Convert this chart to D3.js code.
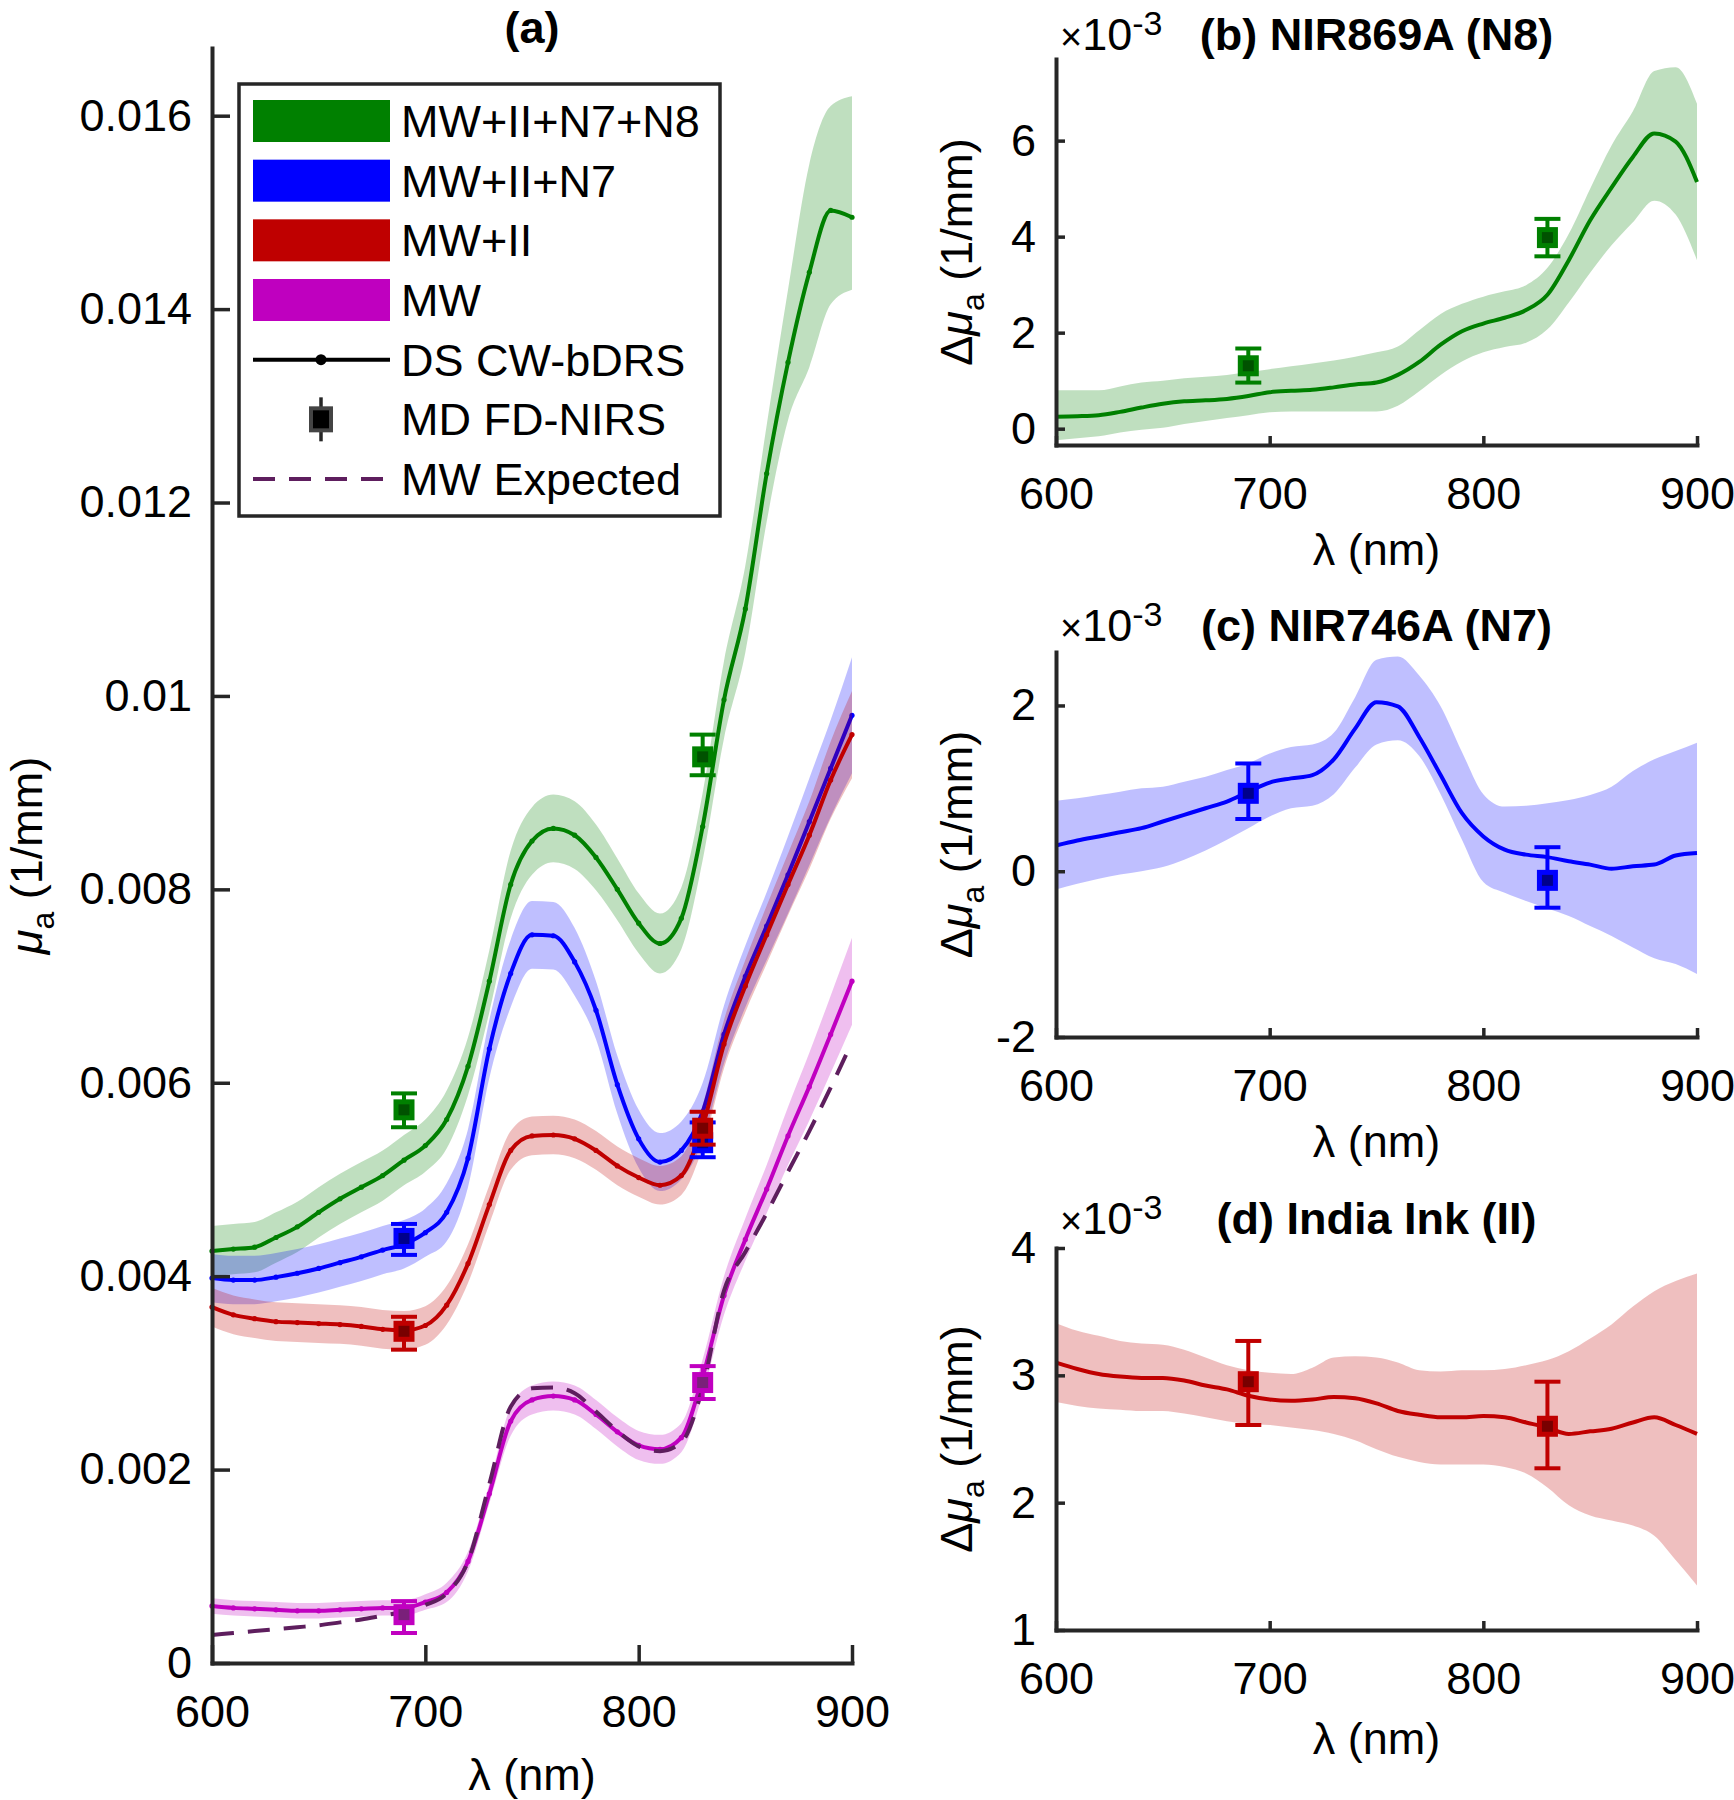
<!DOCTYPE html>
<html><head><meta charset="utf-8">
<script src="https://cdn.jsdelivr.net/npm/d3@7"></script>
<style>
body{margin:0;background:#fff}
text{font-family:"Liberation Sans",Arial,Helvetica,sans-serif;fill:#000}
</style>
</head><body>
<svg id="chart" width="1734" height="1800" xmlns="http://www.w3.org/2000/svg"></svg>
<script>
// ---------------- DATA ----------------
const wavelengths = [600,610,620,630,640,650,660,670,680,690,700,710,720,730,740,750,760,770,780,790,800,810,820,830,840,850,860,870,880,890,900];
const fdWavelengths = [690, 830];
const xTicks = [600, 700, 800, 900];

// Panel (a): mu_a in units of 1e-3 1/mm
const mwMean  = [0.59,0.57,0.56,0.55,0.54,0.54,0.55,0.56,0.57,0.57,0.63,0.73,1.05,1.75,2.50,2.72,2.76,2.72,2.57,2.39,2.25,2.21,2.33,2.96,3.80,4.38,4.90,5.45,5.96,6.50,7.05];
const mwUpper = [0.67,0.65,0.64,0.63,0.62,0.62,0.63,0.64,0.65,0.65,0.71,0.83,1.15,1.85,2.65,2.87,2.91,2.87,2.72,2.54,2.40,2.36,2.48,3.14,4.00,4.60,5.15,5.75,6.31,6.90,7.50];
const mwLower = [0.51,0.49,0.48,0.47,0.46,0.46,0.47,0.48,0.49,0.49,0.55,0.63,0.95,1.65,2.35,2.57,2.61,2.57,2.42,2.24,2.10,2.06,2.18,2.78,3.60,4.16,4.65,5.15,5.61,6.10,6.60];
const mwExpected = [0.29,0.31,0.33,0.35,0.37,0.39,0.42,0.45,0.49,0.53,0.60,0.72,1.05,1.85,2.65,2.84,2.85,2.79,2.60,2.40,2.24,2.19,2.28,2.85,3.85,4.25,4.65,5.08,5.50,5.95,6.42];

const mwIIMean  = [3.68,3.60,3.56,3.53,3.52,3.51,3.50,3.48,3.45,3.44,3.49,3.70,4.13,4.74,5.30,5.45,5.46,5.42,5.30,5.14,5.02,4.94,5.04,5.55,6.40,7.00,7.53,8.05,8.56,9.13,9.60];
const mwIIUpper = [3.88,3.80,3.76,3.73,3.72,3.71,3.70,3.68,3.65,3.64,3.69,3.90,4.33,4.94,5.50,5.65,5.66,5.62,5.50,5.34,5.22,5.14,5.24,5.77,6.65,7.27,7.83,8.37,8.91,9.53,10.05];
const mwIILower = [3.48,3.40,3.36,3.33,3.32,3.31,3.30,3.28,3.25,3.24,3.29,3.50,3.93,4.54,5.10,5.25,5.26,5.22,5.10,4.94,4.82,4.74,4.84,5.33,6.15,6.73,7.23,7.73,8.21,8.73,9.15];

const mwIIN7Mean  = [3.98,3.96,3.96,3.99,4.03,4.08,4.14,4.20,4.27,4.33,4.45,4.66,5.22,6.35,7.13,7.53,7.52,7.25,6.75,5.98,5.42,5.18,5.30,5.70,6.50,7.10,7.62,8.15,8.70,9.25,9.80];
const mwIIN7Upper = [4.23,4.21,4.21,4.24,4.28,4.33,4.39,4.45,4.52,4.58,4.70,4.96,5.52,6.65,7.48,7.88,7.87,7.60,7.05,6.28,5.72,5.48,5.60,6.00,6.80,7.42,7.97,8.55,9.15,9.75,10.40];
const mwIIN7Lower = [3.73,3.71,3.71,3.74,3.78,3.83,3.89,3.95,4.02,4.08,4.20,4.36,4.92,6.05,6.78,7.18,7.17,6.90,6.45,5.68,5.12,4.88,5.00,5.40,6.20,6.78,7.27,7.75,8.25,8.75,9.20];

const mwIIN7N8Mean  = [4.26,4.28,4.30,4.40,4.51,4.66,4.80,4.92,5.04,5.20,5.35,5.62,6.17,7.05,8.05,8.50,8.63,8.56,8.33,8.00,7.65,7.44,7.70,8.65,9.96,10.90,12.30,13.45,14.38,15.02,14.95];
const mwIIN7N8Upper = [4.52,4.54,4.56,4.66,4.77,4.92,5.06,5.18,5.30,5.46,5.62,5.92,6.47,7.37,8.40,8.85,8.98,8.91,8.67,8.32,7.96,7.75,8.02,9.00,10.36,11.35,12.80,14.20,15.50,16.10,16.20];
const mwIIN7N8Lower = [4.00,4.02,4.04,4.14,4.25,4.40,4.54,4.66,4.78,4.94,5.08,5.32,5.87,6.73,7.70,8.15,8.28,8.21,7.99,7.68,7.34,7.13,7.38,8.30,9.56,10.45,11.80,12.85,13.40,14.05,14.20];

// MD FD-NIRS points (at 690 and 830 nm), 1e-3 1/mm
const fdMW = [0.50, 2.90],          fdMWLo = [0.31, 2.73],          fdMWHi = [0.64, 3.07];
const fdMWII = [3.43, 5.53],        fdMWIILo = [3.24, 5.36],        fdMWIIHi = [3.58, 5.70];
const fdMWIIN7 = [4.39, 5.38],      fdMWIIN7Lo = [4.22, 5.23],      fdMWIIN7Hi = [4.54, 5.59];
const fdMWIIN7N8 = [5.72, 9.37],    fdMWIIN7N8Lo = [5.54, 9.18],    fdMWIIN7N8Hi = [5.89, 9.60];

const aYTicks = [0,2,4,6,8,10,12,14,16];
const aYTickLabels = ["0","0.002","0.004","0.006","0.008","0.01","0.012","0.014","0.016"];

// Panel (b): NIR869A (N8), delta mu_a x1e-3
const n8Mean  = [0.25,0.26,0.28,0.35,0.44,0.52,0.57,0.59,0.62,0.68,0.76,0.79,0.81,0.86,0.92,0.96,1.12,1.39,1.75,2.03,2.19,2.31,2.47,2.79,3.51,4.34,5.02,5.66,6.15,5.98,5.14];
const n8Upper = [0.80,0.80,0.80,0.88,0.96,1.00,1.05,1.08,1.12,1.18,1.24,1.30,1.36,1.42,1.50,1.59,1.71,2.05,2.39,2.60,2.75,2.86,2.99,3.35,4.06,5.00,5.90,6.61,7.45,7.53,6.77];
const n8Lower = [-0.24,-0.20,-0.16,-0.08,-0.02,0.02,0.10,0.16,0.22,0.28,0.34,0.36,0.36,0.36,0.36,0.36,0.48,0.78,1.12,1.40,1.59,1.70,1.79,2.07,2.63,3.25,3.82,4.30,4.75,4.46,3.51];
const fdN8 = [1.31, 3.98], fdN8Lo = [0.96, 3.59], fdN8Hi = [1.67, 4.37];
const bYTicks = [0,2,4,6];

// Panel (c): NIR746A (N7)
const n7Mean  = [0.31,0.37,0.42,0.47,0.52,0.60,0.68,0.76,0.84,0.96,1.07,1.12,1.16,1.35,1.72,2.04,1.99,1.62,1.16,0.70,0.42,0.26,0.20,0.17,0.12,0.08,0.03,0.06,0.08,0.19,0.22];
const n7Upper = [0.85,0.88,0.92,0.96,1.00,1.02,1.08,1.14,1.22,1.30,1.42,1.50,1.53,1.67,2.10,2.55,2.59,2.36,1.99,1.44,0.93,0.78,0.79,0.82,0.86,0.92,1.02,1.21,1.35,1.45,1.55];
const n7Lower = [-0.22,-0.15,-0.09,-0.04,0.00,0.05,0.14,0.25,0.38,0.52,0.66,0.76,0.79,0.93,1.25,1.53,1.58,1.39,0.93,0.38,-0.13,-0.26,-0.36,-0.45,-0.54,-0.66,-0.78,-0.92,-1.05,-1.12,-1.24];
const fdN7 = [0.94, -0.11], fdN7Lo = [0.63, -0.44], fdN7Hi = [1.30, 0.29];
const cYTicks = [-2,0,2];

// Panel (d): India Ink (II)
const iiMean  = [3.10,3.05,3.01,2.99,2.98,2.98,2.96,2.92,2.89,2.84,2.81,2.80,2.81,2.83,2.82,2.78,2.72,2.69,2.67,2.67,2.68,2.67,2.63,2.59,2.54,2.56,2.58,2.63,2.67,2.61,2.54];
const iiUpper = [3.41,3.35,3.31,3.27,3.25,3.24,3.20,3.14,3.08,3.04,3.02,3.01,3.06,3.14,3.15,3.14,3.10,3.04,3.03,3.04,3.04,3.05,3.08,3.12,3.19,3.29,3.40,3.54,3.66,3.74,3.80];
const iiLower = [2.79,2.76,2.74,2.73,2.72,2.72,2.70,2.67,2.64,2.62,2.61,2.59,2.57,2.54,2.49,2.42,2.36,2.32,2.30,2.30,2.30,2.28,2.23,2.12,1.98,1.90,1.86,1.82,1.74,1.55,1.35];
const fdII = [2.95, 2.60], fdIILo = [2.61, 2.27], fdIIHi = [3.27, 2.95];
const dYTicks = [1,2,3,4];

const legendLabels = ["MW+II+N7+N8","MW+II+N7","MW+II","MW","DS CW-bDRS","MD FD-NIRS","MW Expected"];

// ---------------- STYLE ----------------
const C = {
  green:  {line:"#008000", face:"#005200", sw:"#008000"},
  blue:   {line:"#0000ff", face:"#00008c", sw:"#0000ff"},
  red:    {line:"#c00000", face:"#780000", sw:"#bf0000"},
  magenta:{line:"#c000c0", face:"#7a207a", sw:"#bf00bf"},
};
const AX = "#262626";
const FONT = 45;
const svg = d3.select("#chart");

function drawPanel(cfg){
  const x = d3.scaleLinear().domain([600,900]).range([cfg.x0, cfg.x1]);
  const y = d3.scaleLinear().domain(cfg.yDomain).range([cfg.yb, cfg.yt]);
  const g = svg.append("g");

  cfg.series.forEach(s=>{
    const area = d3.area()
      .x((d,i)=>x(wavelengths[i]))
      .y0((d,i)=>y(s.lower[i]))
      .y1((d,i)=>y(s.upper[i]))
      .curve(d3.curveMonotoneX);
    g.append("path").datum(s.mean).attr("d", area)
      .attr("fill", s.col.line).attr("fill-opacity", 0.25);
    const line = d3.line().x((d,i)=>x(wavelengths[i])).y(d=>y(d)).curve(d3.curveMonotoneX);
    g.append("path").datum(s.mean).attr("d", line)
      .attr("fill","none").attr("stroke", s.col.line).attr("stroke-width", 4);
    if (cfg.dots){
      g.selectAll(null).data(s.mean).enter().append("circle")
        .attr("cx",(d,i)=>x(wavelengths[i])).attr("cy",d=>y(d)).attr("r",2.6)
        .attr("fill", s.col.line);
    }
  });

  if (cfg.expected){
    const line = d3.line().x((d,i)=>x(wavelengths[i])).y(d=>y(d)).curve(d3.curveMonotoneX);
    g.append("path").datum(cfg.expected).attr("d", line)
      .attr("fill","none").attr("stroke","#5e1e5e").attr("stroke-width",4)
      .attr("stroke-dasharray","22,14");
  }

  cfg.series.forEach(s=>{
    s.fd.forEach((v,i)=>{
      const cx = x(fdWavelengths[i]);
      const lo = y(s.fdLo[i]), hi = y(s.fdHi[i]);
      g.append("line").attr("x1",cx).attr("x2",cx).attr("y1",lo).attr("y2",hi)
        .attr("stroke",s.col.line).attr("stroke-width",4);
      [lo,hi].forEach(yy=>g.append("line").attr("x1",cx-13).attr("x2",cx+13).attr("y1",yy).attr("y2",yy)
        .attr("stroke",s.col.line).attr("stroke-width",4));
      g.append("rect").attr("x",cx-8).attr("y",y(v)-8).attr("width",16).attr("height",16)
        .attr("fill",s.col.face).attr("stroke",s.col.line).attr("stroke-width",5);
    });
  });

  // axes
  const xa = g.append("g").attr("transform",`translate(0,${cfg.yb})`)
    .call(d3.axisBottom(x).tickValues(xTicks).tickSize(-cfg.tick).tickSizeOuter(0).tickPadding(32));
  const ya = g.append("g").attr("transform",`translate(${cfg.x0},0)`)
    .call(d3.axisLeft(y).tickValues(cfg.yTicks).tickFormat((d,i)=>cfg.yTickLabels? cfg.yTickLabels[i] : String(d))
      .tickSize(-cfg.tick).tickSizeOuter(0).tickPadding(20));
  [xa,ya].forEach(a=>{
    a.attr("font-family",null).attr("font-size",null);
    a.select(".domain").attr("stroke",AX).attr("stroke-width",4).attr("stroke-linecap","square");
    a.selectAll(".tick line").attr("stroke",AX).attr("stroke-width",3.5);
    a.selectAll(".tick text").attr("fill","#000").style("font-size",FONT+"px");
  });

  // x label
  g.append("text").attr("x",(cfg.x0+cfg.x1)/2).attr("y",cfg.yb+cfg.xlabOff)
    .attr("text-anchor","middle").style("font-size",FONT+"px").text("λ (nm)");
  // y label
  const yl = g.append("text").attr("transform",`translate(${cfg.ylabX},${(cfg.yb+cfg.yt)/2}) rotate(-90)`)
    .attr("text-anchor","middle").style("font-size",FONT+"px");
  if (cfg.delta) yl.append("tspan").text("Δ");
  yl.append("tspan").style("font-style","italic").text("μ");
  yl.append("tspan").attr("dy",12).style("font-size","32px").text("a");
  yl.append("tspan").attr("dy",-12).text(" (1/mm)");
  // title
  g.append("text").attr("x",(cfg.x0+cfg.x1)/2).attr("y",cfg.titleY)
    .attr("text-anchor","middle").style("font-size",FONT+"px").style("font-weight","bold").text(cfg.title);
  if (cfg.exp){
    const t = g.append("text").attr("x",cfg.x0+4).attr("y",cfg.titleY).style("font-size",FONT+"px");
    t.append("tspan").style("font-size","38px").text("×");
    t.append("tspan").text("10");
    t.append("tspan").attr("dy",-15).style("font-size","34px").text("-3");
  }
  return {x,y,g};
}

// Panel (a)
drawPanel({
  x0:212, x1:852, yb:1663, yt:48, yDomain:[0,16.7], tick:18, titleY:43,
  yTicks:aYTicks, yTickLabels:aYTickLabels, xlabOff:127, ylabX:42, title:"(a)", dots:true,
  expected: mwExpected,
  series:[
    {col:C.green, mean:mwIIN7N8Mean, upper:mwIIN7N8Upper, lower:mwIIN7N8Lower, fd:fdMWIIN7N8, fdLo:fdMWIIN7N8Lo, fdHi:fdMWIIN7N8Hi},
    {col:C.blue, mean:mwIIN7Mean, upper:mwIIN7Upper, lower:mwIIN7Lower, fd:fdMWIIN7, fdLo:fdMWIIN7Lo, fdHi:fdMWIIN7Hi},
    {col:C.red, mean:mwIIMean, upper:mwIIUpper, lower:mwIILower, fd:fdMWII, fdLo:fdMWIILo, fdHi:fdMWIIHi},
    {col:C.magenta, mean:mwMean, upper:mwUpper, lower:mwLower, fd:fdMW, fdLo:fdMWLo, fdHi:fdMWHi},
  ]
});

drawPanel({
  x0:1056, x1:1697, yb:445, yt:59, yDomain:[-0.34,7.7], tick:9, titleY:50,
  yTicks:bYTicks, xlabOff:120, ylabX:972, title:"(b) NIR869A (N8)", delta:true, exp:true,
  series:[{col:C.green, mean:n8Mean, upper:n8Upper, lower:n8Lower, fd:fdN8, fdLo:fdN8Lo, fdHi:fdN8Hi}]
});
drawPanel({
  x0:1056, x1:1697, yb:1037, yt:652, yDomain:[-2,2.645], tick:9, titleY:641,
  yTicks:cYTicks, xlabOff:120, ylabX:972, title:"(c) NIR746A (N7)", delta:true, exp:true,
  series:[{col:C.blue, mean:n7Mean, upper:n7Upper, lower:n7Lower, fd:fdN7, fdLo:fdN7Lo, fdHi:fdN7Hi}]
});
drawPanel({
  x0:1056, x1:1697, yb:1630, yt:1248, yDomain:[1,4], tick:9, titleY:1234,
  yTicks:dYTicks, xlabOff:124, ylabX:972, title:"(d) India Ink (II)", delta:true, exp:true,
  series:[{col:C.red, mean:iiMean, upper:iiUpper, lower:iiLower, fd:fdII, fdLo:fdIILo, fdHi:fdIIHi}]
});

// Legend (panel a)
const lg = svg.append("g");
lg.append("rect").attr("x",239).attr("y",84).attr("width",481).attr("height",432)
  .attr("fill","#fff").attr("stroke",AX).attr("stroke-width",3.5);
const rowY = d3.scalePoint().domain(legendLabels).range([121, 479]);
const swCols = [C.green.sw, C.blue.sw, C.red.sw, C.magenta.sw];
legendLabels.forEach((lab,i)=>{
  const cy = rowY(lab);
  if (i<4){
    lg.append("rect").attr("x",253).attr("y",cy-21).attr("width",137).attr("height",42).attr("fill",swCols[i]);
  } else if (i===4){
    lg.append("line").attr("x1",253).attr("x2",390).attr("y1",cy).attr("y2",cy).attr("stroke","#000").attr("stroke-width",4);
    lg.append("circle").attr("cx",321).attr("cy",cy).attr("r",5.5).attr("fill","#000");
  } else if (i===5){
    lg.append("line").attr("x1",321).attr("x2",321).attr("y1",cy-22).attr("y2",cy+22).attr("stroke",AX).attr("stroke-width",3.5);
    lg.append("rect").attr("x",311).attr("y",cy-11).attr("width",20).attr("height",22).attr("fill","#000").attr("stroke","#444").attr("stroke-width",4);
  } else {
    lg.append("line").attr("x1",253).attr("x2",390).attr("y1",cy).attr("y2",cy).attr("stroke","#5e1e5e").attr("stroke-width",4).attr("stroke-dasharray","22,14");
  }
  lg.append("text").attr("x",401).attr("y",cy+16).style("font-size",FONT+"px").text(lab);
});
</script>
</body></html>
